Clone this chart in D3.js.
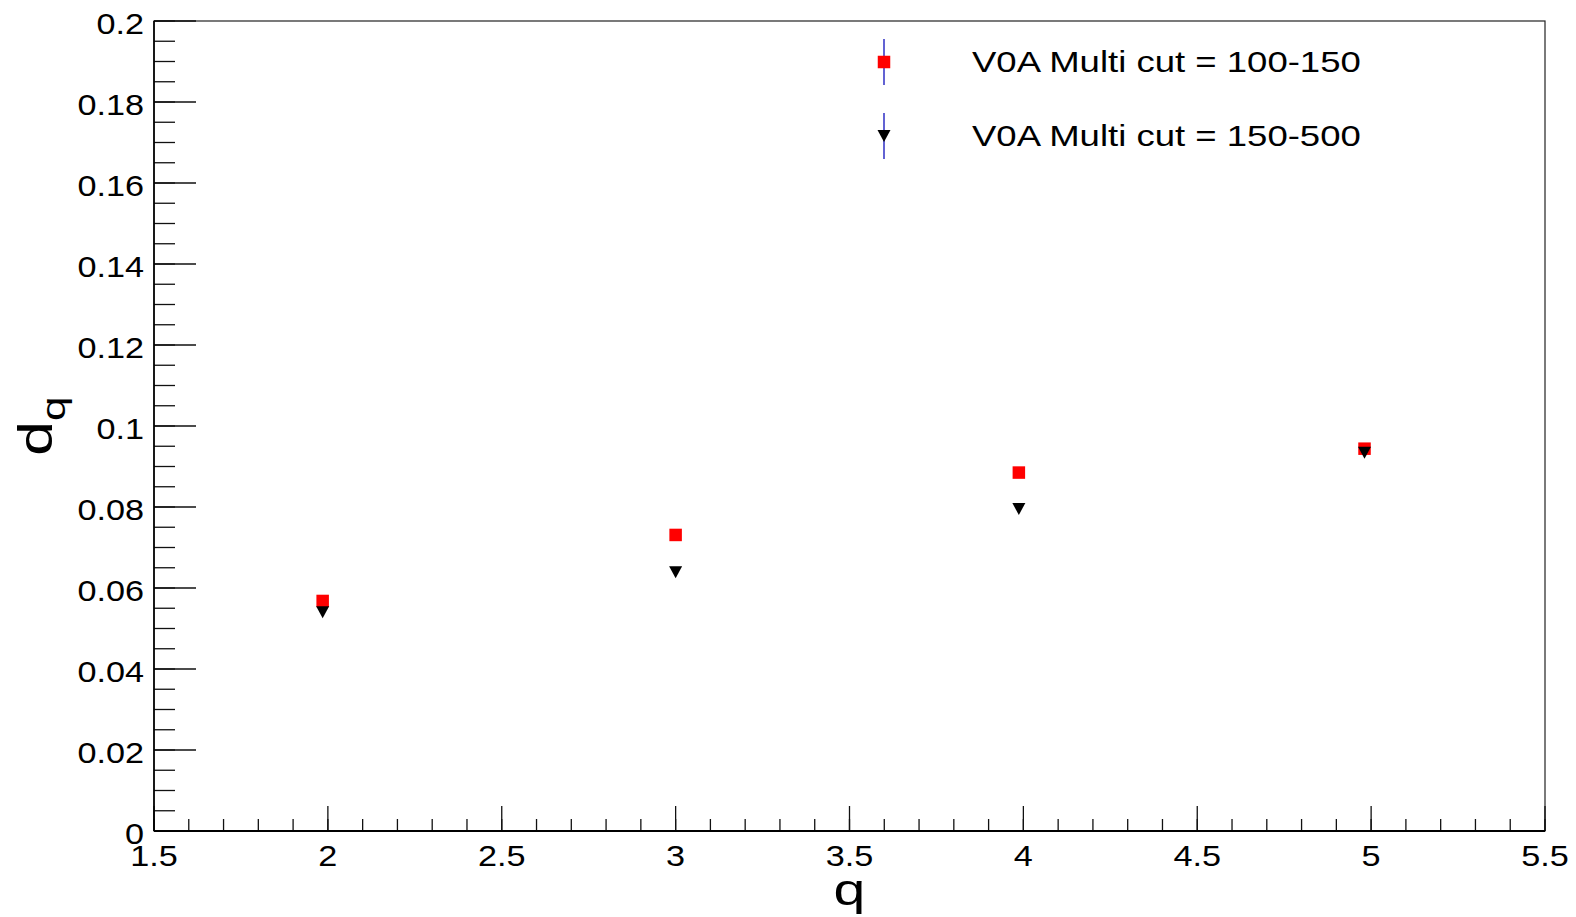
<!DOCTYPE html>
<html>
<head>
<meta charset="utf-8">
<script src="https://cdn.jsdelivr.net/npm/d3@7/dist/d3.min.js"></script>
<style>
  html, body { margin: 0; padding: 0; background: #fff; }
  svg text { font-family: "Liberation Sans", Arial, Helvetica, sans-serif; fill: #000; }
</style>
</head>
<body>
<svg id="chart" width="1576" height="917"></svg>
<script>
// data
var qLow  = [1.985, 3.0, 3.987, 4.981];
var dLow  = [0.0568, 0.0731, 0.0885, 0.0944];   // V0A Multi cut = 100-150
var qHigh = [1.985, 3.0, 3.987, 4.981];
var dHigh = [0.0540, 0.0639, 0.0795, 0.0934];   // V0A Multi cut = 150-500

var xTicks = [1.5, 2, 2.5, 3, 3.5, 4, 4.5, 5, 5.5];
var xTickLabels = ["1.5", "2", "2.5", "3", "3.5", "4", "4.5", "5", "5.5"];
var yTicks = [0, 0.02, 0.04, 0.06, 0.08, 0.1, 0.12, 0.14, 0.16, 0.18, 0.2];
var yTickLabels = ["0", "0.02", "0.04", "0.06", "0.08", "0.1", "0.12", "0.14", "0.16", "0.18", "0.2"];

var seriesNames = ["V0A Multi cut = 100-150", "V0A Multi cut = 150-500"];

(function () {
var svg = d3.select("#chart"),
    pL = 154, pR = 1545, pT = 21, pB = 831,
    stretch = 1.18;

var x = d3.scaleLinear().domain([1.5, 5.5]).range([pL, pR]);
var y = d3.scaleLinear().domain([0, 0.2]).range([pB, pT]);

// frame
svg.append("rect")
  .attr("x", pL).attr("y", pT)
  .attr("width", pR - pL).attr("height", pB - pT)
  .attr("fill", "none").attr("stroke", "#222").attr("stroke-width", 1.2);

// minor ticks (every 0.1 on x, 0.005 on y)
var xMinor = d3.range(15, 56).map(function (d) { return d / 10; });
var yMinor = d3.range(0, 41).map(function (d) { return d * 0.005; });

var g = svg.append("g");

g.selectAll("line.xmin").data(xMinor).enter().append("line")
  .attr("x1", function (d) { return x(d); }).attr("x2", function (d) { return x(d); })
  .attr("y1", pB).attr("y2", pB - 12)
  .attr("stroke", "#111").attr("stroke-width", 1.3);

g.selectAll("line.xmaj").data(xTicks).enter().append("line")
  .attr("x1", function (d) { return x(d); }).attr("x2", function (d) { return x(d); })
  .attr("y1", pB).attr("y2", pB - 25)
  .attr("stroke", "#111").attr("stroke-width", 1.3);

g.selectAll("line.ymin").data(yMinor).enter().append("line")
  .attr("x1", pL).attr("x2", pL + 21)
  .attr("y1", function (d) { return y(d); }).attr("y2", function (d) { return y(d); })
  .attr("stroke", "#111").attr("stroke-width", 1.3);

g.selectAll("line.ymaj").data(yTicks).enter().append("line")
  .attr("x1", pL).attr("x2", pL + 42)
  .attr("y1", function (d) { return y(d); }).attr("y2", function (d) { return y(d); })
  .attr("stroke", "#111").attr("stroke-width", 1.3);

// axis lines
svg.append("line").attr("x1", pL).attr("x2", pR).attr("y1", pB).attr("y2", pB)
  .attr("stroke", "#000").attr("stroke-width", 2.2);
svg.append("line").attr("x1", pL).attr("x2", pL).attr("y1", pT).attr("y2", pB)
  .attr("stroke", "#000").attr("stroke-width", 1.6);

// tick labels
svg.selectAll("text.xl").data(xTicks).enter().append("text")
  .attr("transform", function (d) { return "translate(" + x(d) + "," + (pB + 35) + ") scale(" + stretch + ",1)"; })
  .attr("text-anchor", "middle")
  .attr("font-size", 29)
  .text(function (d, i) { return xTickLabels[i]; });

svg.selectAll("text.yl").data(yTicks).enter().append("text")
  .attr("transform", function (d) { return "translate(" + (pL - 10) + "," + (y(d) + 13) + ") scale(" + stretch + ",1)"; })
  .attr("text-anchor", "end")
  .attr("font-size", 29)
  .text(function (d, i) { return yTickLabels[i]; });

// axis titles
svg.append("text")
  .attr("transform", "translate(" + x(3.5) + ",905) scale(1.3,1)")
  .attr("text-anchor", "middle")
  .attr("font-size", 44)
  .text("q");

var yt = svg.append("text")
  .attr("transform", "translate(52,426) rotate(-90) scale(1.3,1)")
  .attr("text-anchor", "middle")
  .attr("font-size", 48);
yt.append("tspan").text("d");
yt.append("tspan").attr("font-size", 34).attr("dy", 13).text("q");

// markers
var sq = 12.5;
svg.append("g").selectAll("rect").data(qLow).enter().append("rect")
  .attr("x", function (d) { return x(d) - sq / 2; })
  .attr("y", function (d, i) { return y(dLow[i]) - sq / 2; })
  .attr("width", sq).attr("height", sq)
  .attr("fill", "#ff0000");

// ROOT style down triangle, centred on its box
var triDown = {
  draw: function (ctx, size) {
    var w = 13, h = 12;
    ctx.moveTo(-w / 2, -h / 2);
    ctx.lineTo(w / 2, -h / 2);
    ctx.lineTo(0, h / 2);
    ctx.closePath();
  }
};
var tri = d3.symbol().type(triDown);
svg.append("g").selectAll("path").data(qHigh).enter().append("path")
  .attr("d", tri)
  .attr("transform", function (d, i) { return "translate(" + x(d) + "," + y(dHigh[i]) + ")"; })
  .attr("fill", "#000");

// legend
var legX = 884, legY = [62, 136], textX = 972;
var leg = svg.append("g");
leg.selectAll("line").data(legY).enter().append("line")
  .attr("x1", legX).attr("x2", legX)
  .attr("y1", function (d) { return d - 23; }).attr("y2", function (d) { return d + 23; })
  .attr("stroke", "#2020c0").attr("stroke-width", 1.4);
leg.append("rect")
  .attr("x", legX - sq / 2).attr("y", legY[0] - sq / 2)
  .attr("width", sq).attr("height", sq).attr("fill", "#ff0000");
leg.append("path")
  .attr("d", tri)
  .attr("transform", "translate(" + legX + "," + legY[1] + ")")
  .attr("fill", "#000");
leg.selectAll("text").data(seriesNames).enter().append("text")
  .attr("transform", function (d, i) { return "translate(" + textX + "," + (legY[i] + 10) + ") scale(1.26,1)"; })
  .attr("font-size", 29)
  .text(function (d) { return d; });
})();
</script>
</body>
</html>
